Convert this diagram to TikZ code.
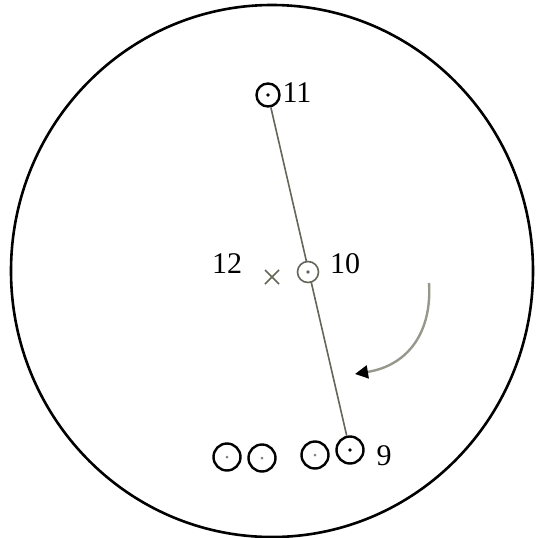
\documentclass[tikz,border=0pt]{standalone}
\usepackage{fontspec}
\setmainfont{Liberation Serif}
\usetikzlibrary{arrows.meta}
\definecolor{lineg}{RGB}{100,102,88}
\definecolor{arrg}{RGB}{150,152,140}
\tikzset{
  pin/.style={circle,draw=black,line width=2.4pt,minimum size=#1,inner sep=0pt},
  dotc/.style={circle,fill=black,minimum size=3.6pt,inner sep=0pt},
  lab/.style={font=\fontsize{30}{31}\selectfont,inner sep=0pt},
}
\begin{document}
\begin{tikzpicture}[x=1pt,y=-1pt]
\useasboundingbox (0,0) rectangle (536,538);
\fill[white] (0,0) rectangle (536,538);
\draw[line width=2.6pt] (272,271) ellipse [x radius=261, y radius=266];
% pins
\node[pin=23pt] (p11) at (268,95) {};
\node[pin=27pt] (p9) at (350,450) {};
\draw[lineg,line width=1.6pt] (p11) -- (p9);
\node[pin=21pt,draw=lineg,line width=1.6pt,fill=white] (p10) at (308,272) {};
\node[dotc] at (p11) {};
\node[dotc] at (p9) {};
\node[dotc,fill=lineg] at (p10) {};
\node[pin=27pt] (b1) at (227,457) {};
\node[pin=27pt] (b2) at (262,458) {};
\node[pin=27pt] (b3) at (315,455) {};
\node[dotc,fill=gray,minimum size=3pt] at (b1) {};
\node[dotc,fill=gray,minimum size=3pt] at (b2) {};
\node[dotc,fill=gray,minimum size=3pt] at (b3) {};
% cross
\coordinate (x0) at (272,277);
\draw[lineg,line width=1.6pt] ([shift={(-7,-7)}]x0) -- ([shift={(7,7)}]x0)
  ([shift={(-7,7)}]x0) -- ([shift={(7,-7)}]x0);
% labels
\node[lab] (l11) at (297,93) {11};
\node[lab] (l12) at (227,264) {12};
\node[lab] (l10) at (345,264) {10};
\node[lab] (l9) at (384,456) {9};
% arrow
\coordinate (a0) at (429,283);
\coordinate (a1) at (355,374);
\draw[arrg,line width=2.4pt,-{Triangle[length=13pt,width=13pt,fill=black,color=black]}]
  (a0) .. controls (432,330) and (410,365) .. (a1);
\end{tikzpicture}
\end{document}
